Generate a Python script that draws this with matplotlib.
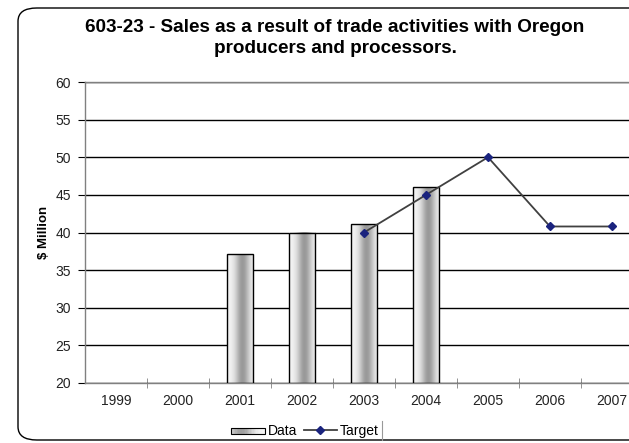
import numpy as np
import matplotlib
matplotlib.use("Agg")
import matplotlib.pyplot as plt
from matplotlib.patches import Rectangle, FancyBboxPatch
from matplotlib.lines import Line2D
from matplotlib.legend_handler import HandlerBase

plt.rcParams['font.family'] = ['Liberation Sans', 'DejaVu Sans']

years = ['1999', '2000', '2001', '2002', '2003', '2004', '2005', '2006', '2007']
data_values = [None, None, 37.1, 40.0, 41.1, 46.0, None, None, None]
target_values = [None, None, None, None, 40.0, 45.0, 50.0, 40.8, 40.8]

W, H = 629, 443
fig = plt.figure(figsize=(W / 100, H / 100), dpi=100)

# rounded chart frame
frame = FancyBboxPatch((18 / W, 3 / H), 640 / W, 432 / H,
                       boxstyle="round,pad=0,rounding_size=0.03",
                       transform=fig.transFigure, facecolor='white',
                       edgecolor='black', linewidth=1.0, zorder=0)
fig.add_artist(frame)

ax = fig.add_axes([85 / W, 1 - 383 / H, (643 - 85) / W, (383 - 82) / H])
ax.set_facecolor('none')

# horizontal gridlines
ax.set_yticks(np.arange(20, 61, 5))
ax.yaxis.grid(True, color='black', linewidth=1.0)
ax.set_axisbelow(True)

# bar gradient: light at edges, darker slightly right of centre
xs = np.linspace(0, 1, 64)
shade = 0.96 - 0.36 * np.exp(-((xs - 0.6) / 0.28) ** 2)
grad = np.tile(shade, (2, 1))

bar_w = 0.41
for i, v in enumerate(data_values):
    if v is None:
        continue
    x0, x1 = i - bar_w / 2, i + bar_w / 2
    ax.imshow(grad, cmap='gray', vmin=0, vmax=1, aspect='auto',
              extent=[x0, x1, 20, v], zorder=2, interpolation='bilinear')
    ax.add_patch(Rectangle((x0, 20), bar_w, v - 20, facecolor='none',
                           edgecolor='black', linewidth=1.0, zorder=3))
ax.set_xlim(-0.5, len(years) - 0.5)
ax.set_ylim(20, 60)

tx = [i for i, v in enumerate(target_values) if v is not None]
ty = [v for v in target_values if v is not None]
ax.plot(tx, ty, color='#404040', linewidth=1.3, marker='D', markersize=4,
        markerfacecolor='#1a237e', markeredgecolor='#1a237e', zorder=4,
        clip_on=False)

for s in ['top', 'left', 'bottom', 'right']:
    ax.spines[s].set_color('#808080')
    ax.spines[s].set_linewidth(1.0)

ax.set_xticks(range(len(years)))
ax.set_xticklabels(years)
ax.set_xticks(np.arange(0.5, len(years) - 0.5, 1), minor=True)
ax.tick_params(axis='x', which='major', length=0, pad=8, labelsize=10,
               labelcolor='#222222')
ax.tick_params(axis='x', which='minor', length=7, direction='inout',
               color='#808080')
ax.tick_params(axis='y', length=5, color='black', labelsize=10, pad=5,
               labelcolor='#222222')

ax.set_ylabel('$ Million', fontsize=9.5, fontweight='bold', labelpad=4)

fig.text(335 / W, 1 - 38 / H,
         '603-23 - Sales as a result of trade activities with Oregon\nproducers and processors.',
         ha='center', va='center', fontsize=13.6, fontweight='bold',
         linespacing=1.25)


class GradientPatchHandler(HandlerBase):
    def create_artists(self, legend, orig_handle, xdescent, ydescent,
                       width, height, fontsize, trans):
        artists = []
        n = 24
        for k in range(n):
            t = k / (n - 1)
            g = 0.97 - 0.35 * np.exp(-((t - 0.3) / 0.35) ** 2)
            artists.append(Rectangle((-xdescent + width * k / n, -ydescent + height * 0.15),
                                     width / n, height * 0.6,
                                     facecolor=(g, g, g), edgecolor='none',
                                     transform=trans))
        artists.append(Rectangle((-xdescent, -ydescent + height * 0.15), width,
                                 height * 0.6, facecolor='none',
                                 edgecolor='black', linewidth=0.8,
                                 transform=trans))
        return artists


data_handle = Rectangle((0, 0), 1, 1)
target_handle = Line2D([], [], color='#404040', linewidth=1.3, marker='D',
                       markersize=4, markerfacecolor='#1a237e',
                       markeredgecolor='#1a237e')
fig.legend([data_handle, target_handle], ['Data', 'Target'],
           handler_map={Rectangle: GradientPatchHandler()},
           loc='center', bbox_to_anchor=(305 / W, 1 - 431 / H),
           ncol=2, frameon=False, fontsize=10, handlelength=2.4,
           handletextpad=0.2, columnspacing=0.5)
fig.add_artist(Line2D([382 / W, 382 / W], [1 - 421 / H, 1 - 440 / H],
                      transform=fig.transFigure, color='#999999',
                      linewidth=0.8))

fig.savefig('out.png', dpi=100)
